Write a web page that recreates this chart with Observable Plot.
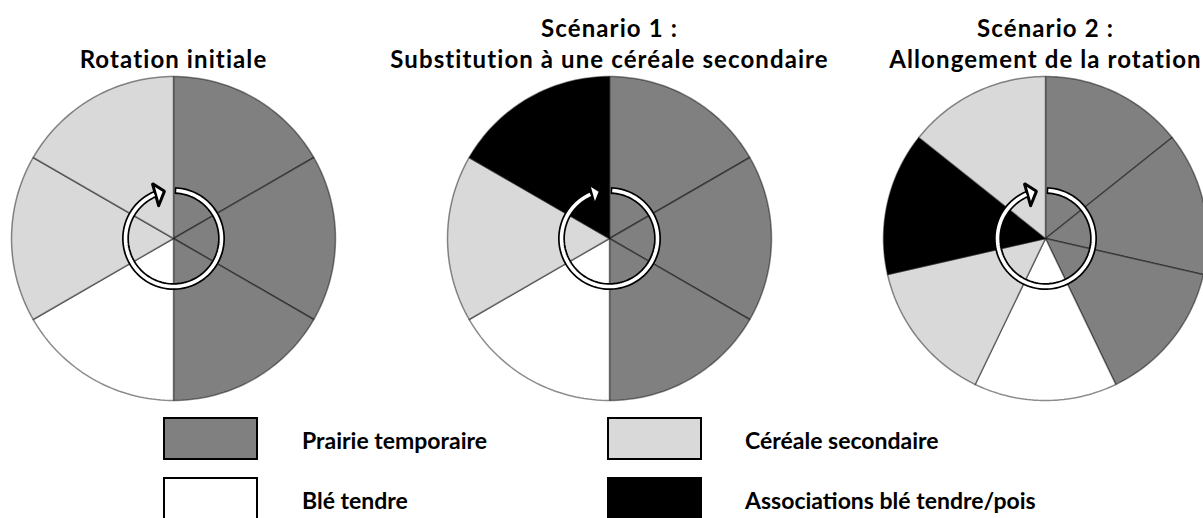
<!DOCTYPE html>
<html><head><meta charset="utf-8">
<script src="https://cdn.jsdelivr.net/npm/d3@7"></script>
<script src="https://cdn.jsdelivr.net/npm/@observablehq/plot@0.6"></script>
<style>
body{margin:0;background:#fff;overflow:hidden}
#wrap{position:relative;width:1203px;height:518px;overflow:hidden;font-family:Lato,"Open Sans",sans-serif;color:#000}
#chart{position:absolute;left:-45px;top:0;width:1308px}
#chart svg{overflow:visible;max-width:none}
#chart g[aria-label="text"]{letter-spacing:1.1px;font-variant-ligatures:none}
.item{position:absolute;height:44px}
.sw{position:absolute;left:0;top:0;width:91px;height:39px;border:2.5px solid #000;box-sizing:content-box}
.lab{position:absolute;top:1px;height:44px;line-height:44px;font-weight:bold;font-size:23px;white-space:nowrap}
</style></head>
<body><div id="wrap"><div id="chart"></div><div id="legend"></div></div>
<script>
// ---- data ----
const scenarios = ["Rotation initiale", "Scénario 1 :\nSubstitution à une céréale secondaire", "Scénario 2 :\nAllongement de la rotation"];
const crops = ["Prairie temporaire", "Céréale secondaire", "Blé tendre", "Associations blé tendre/pois"];
const cropColors = ["#808080", "#d9d9d9", "#ffffff", "#000000"];
const rotationInitiale = ["Prairie temporaire", "Prairie temporaire", "Prairie temporaire", "Blé tendre", "Céréale secondaire", "Céréale secondaire"];
const scenario1 = ["Prairie temporaire", "Prairie temporaire", "Prairie temporaire", "Blé tendre", "Céréale secondaire", "Associations blé tendre/pois"];
const scenario2 = ["Prairie temporaire", "Prairie temporaire", "Prairie temporaire", "Blé tendre", "Céréale secondaire", "Associations blé tendre/pois", "Céréale secondaire"];
const rotations = [rotationInitiale, scenario1, scenario2];

// ---- geometry (pixel-like units) ----
const R = 162, RING = 48;
const deg = Math.PI / 180;
const pt = (r, a) => ({x: r * Math.sin(a), y: r * Math.cos(a)});
function arcPts(r, a0, a1, n) {
  const out = [];
  for (let k = 0; k <= n; k++) out.push(pt(r, a0 + (a1 - a0) * k / n));
  return out;
}
const slices = [];
rotations.forEach((rot, i) => {
  const n = rot.length;
  rot.forEach((crop, j) => {
    const a0 = j / n * 2 * Math.PI, a1 = (j + 1) / n * 2 * Math.PI;
    const id = i + "-" + j;
    const pts = [{x: 0, y: 0}, ...arcPts(R, a0, a1, 40), {x: 0, y: 0}];
    pts.forEach(p => slices.push({scenario: scenarios[i], id, crop, ...p}));
  });
});
const ringBlack = arcPts(RING, 1.5 * deg, 338 * deg, 120);
const ringWhite = arcPts(RING, 3.3 * deg, 336.5 * deg, 120);
const head = [pt(36, 335.6 * deg), pt(48.2, 349.2 * deg), pt(59, 339 * deg), pt(36, 335.6 * deg)];

const chart = Plot.plot({
  width: 1308, height: 410,
  marginTop: 75, marginBottom: 0, marginLeft: 0, marginRight: 0,
  style: {fontFamily: "Lato, 'Open Sans', sans-serif", color: "#000", background: "transparent", maxWidth: "none"},
  fx: {domain: scenarios, padding: 0, label: null, axis: null},
  x: {domain: [-218, 218], axis: null},
  y: {domain: [-172, 163], axis: null},
  color: {domain: crops, range: cropColors},
  marks: [
    Plot.line(slices, {fx: "scenario", x: "x", y: "y", z: "id", fill: "crop", stroke: "#000", strokeOpacity: 0.45, strokeWidth: 1.5}),
    Plot.line(ringBlack, {x: "x", y: "y", stroke: "#000", strokeWidth: 7, strokeLinecap: "butt"}),
    Plot.line(head, {x: "x", y: "y", fill: "#fff", stroke: "#000", strokeWidth: 3, strokeLinejoin: "miter"}),
    Plot.line(ringWhite, {x: "x", y: "y", stroke: "#fff", strokeWidth: 3.6, strokeLinecap: "butt"}),
    Plot.text(scenarios, {fx: d => d, text: d => d, frameAnchor: "top", dy: -8, lineAnchor: "bottom", fontSize: 24, fontWeight: "bold", lineHeight: 1.29, fill: "#000"})
  ]
});
document.getElementById("chart").append(chart);

// ---- legend ----
const legend = document.getElementById("legend");
const colX = [163, 607], textX = [139, 138], rowY = [417, 477];
crops.forEach((c, i) => {
  const col = i % 2, row = Math.floor(i / 2);
  const it = document.createElement("div");
  it.className = "item";
  it.style.left = colX[col] + "px";
  it.style.top = rowY[row] + "px";
  const sw = document.createElement("div");
  sw.className = "sw";
  sw.style.background = cropColors[i];
  const lab = document.createElement("div");
  lab.className = "lab";
  lab.style.left = textX[col] + "px";
  lab.textContent = c;
  it.append(sw, lab);
  legend.append(it);
});
</script></body></html>
